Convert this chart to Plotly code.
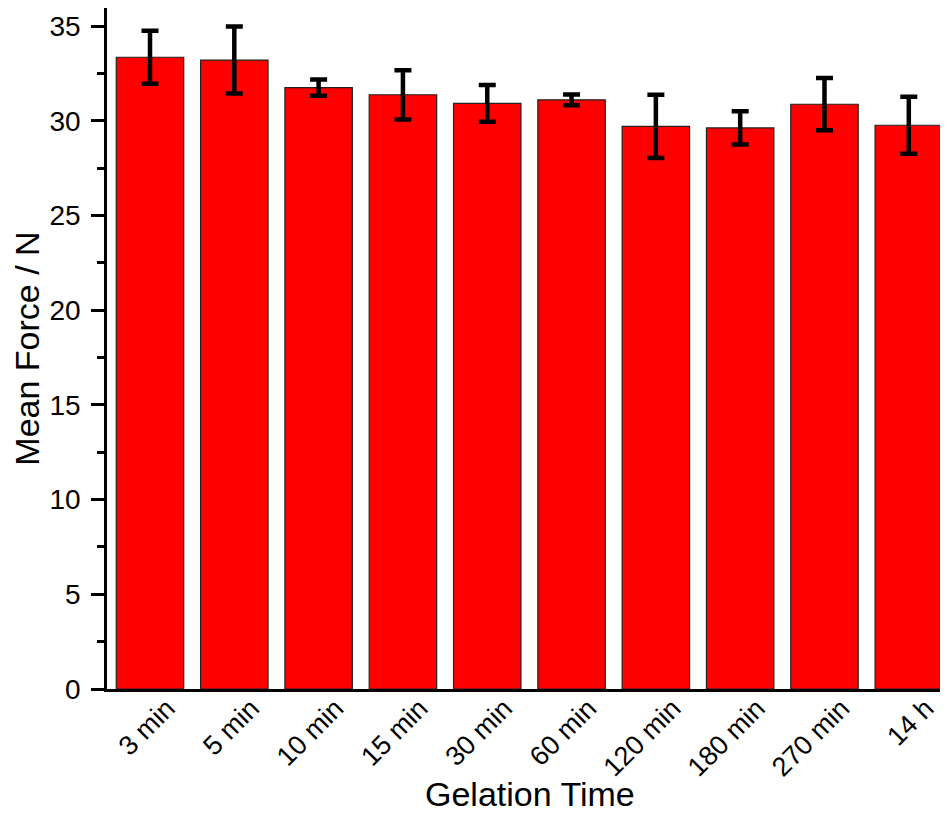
import plotly.graph_objects as go

categories = ["3 min", "5 min", "10 min", "15 min", "30 min", "60 min",
              "120 min", "180 min", "270 min", "14 h"]
mean_force = [33.35, 33.2, 31.75, 31.37, 30.92, 31.1, 29.7, 29.62, 30.87, 29.76]
error = [1.4, 1.77, 0.43, 1.3, 0.97, 0.28, 1.67, 0.88, 1.38, 1.51]
y_ticks = [0, 5, 10, 15, 20, 25, 30, 35]
x_title = "Gelation Time"
y_title = "Mean Force / N"

FONT = "Arial, 'Liberation Sans', sans-serif"

fig = go.Figure()
fig.add_trace(go.Bar(
    x=categories,
    y=mean_force,
    marker=dict(color="#ff0000", line=dict(color="#222222", width=1.2)),
    error_y=dict(type="data", array=error, visible=True,
                 color="black", thickness=4.5, width=8.5),
    width=0.8,
))

fig.update_layout(
    width=932, height=804,
    margin=dict(l=99, r=0, t=0, b=123),
    plot_bgcolor="white", paper_bgcolor="white",
    showlegend=False,
    font=dict(family=FONT, color="black"),
    xaxis=dict(
        range=[-0.51, 9.37],
        automargin=False,
        showline=True, linecolor="black", linewidth=2.5, mirror=True,
        ticks="", tickangle=-45,
        tickfont=dict(size=27, family=FONT, color="black"),
        ticklabelshift=17, ticklabelstandoff=-10,
        showgrid=False,
    ),
    yaxis=dict(
        range=[0, 35.95],
        automargin=False,
        tickvals=y_ticks,
        showline=True, linecolor="black", linewidth=2.5, mirror=False,
        ticks="outside", ticklen=13, tickwidth=2.5, tickcolor="black",
        minor=dict(ticks="outside", ticklen=7, tickwidth=2.5, tickcolor="black", dtick=2.5),
        tickfont=dict(size=28, family=FONT, color="black"),
        ticklabelstandoff=5,
        title=dict(text=y_title, font=dict(size=34, family=FONT, color="black"),
                   standoff=9),
        showgrid=False, zeroline=False,
    ),
    annotations=[dict(
        text=x_title, xref="paper", yref="paper", x=0.5, y=0,
        xanchor="center", yanchor="middle", xshift=6, yshift=-105,
        showarrow=False, font=dict(size=34, family=FONT, color="black"),
    )],
)

fig.write_html("out.html")
